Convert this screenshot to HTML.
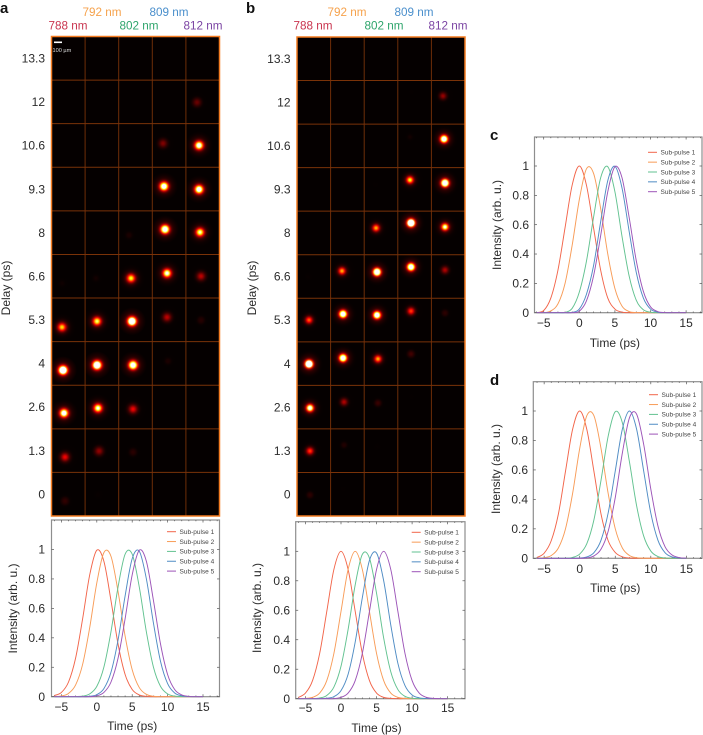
<!DOCTYPE html>
<html lang="en">
<head>
<meta charset="utf-8">
<title>Sub-pulse delay maps</title>
<style>
html,body{margin:0;padding:0;background:#fff;width:703px;height:735px;overflow:hidden}
svg{display:block;font-family:"Liberation Sans",sans-serif}
text{fill:#2b2b2b}
.wl{font-size:11.7px;text-anchor:middle}
.letter{font-size:15px;font-weight:bold;fill:#111}
.title{font-size:12px;text-anchor:middle}
</style>
</head>
<body>
<svg id="figure" xmlns="http://www.w3.org/2000/svg" width="703" height="735" viewBox="0 0 703 735">
<defs id="gradients"></defs>
<text class="letter" x="0" y="13">a</text>
<text class="letter" x="246" y="13">b</text>
<text class="letter" x="490" y="140">c</text>
<text class="letter" x="490" y="385">d</text>

<text class="wl" x="68" y="29.5" style="fill:#c9354f">788 nm</text>
<text class="wl" x="102" y="16" style="fill:#f6a24c">792 nm</text>
<text class="wl" x="139" y="29.5" style="fill:#2fa56c">802 nm</text>
<text class="wl" x="169" y="16" style="fill:#4a8fcc">809 nm</text>
<text class="wl" x="203" y="29.5" style="fill:#7b44a3">812 nm</text>
<text class="wl" x="313" y="29.5" style="fill:#c9354f">788 nm</text>
<text class="wl" x="347" y="16" style="fill:#f6a24c">792 nm</text>
<text class="wl" x="384" y="29.5" style="fill:#2fa56c">802 nm</text>
<text class="wl" x="414" y="16" style="fill:#4a8fcc">809 nm</text>
<text class="wl" x="448" y="29.5" style="fill:#7b44a3">812 nm</text>

<text class="title" transform="translate(10,288) rotate(-90)">Delay (ps)</text>
<text class="title" transform="translate(256,288) rotate(-90)">Delay (ps)</text>
</svg>
<script>
// ---- Chart data ----
const delayLabels = ["13.3","12","10.6","9.3","8","6.6","5.3","4","2.6","1.3","0"];
const columnCount = 5;
// Spots: row, column, peak intensity (saturating above 1), x and y drift from the cell centre in µm
const spotsA = [
 [1,4,.28,-71,6],
 [2,3,.32,-76,-26],[2,4,1.15,-46,-1],
 [3,3,1.3,-64,-34],[3,4,1.25,-46,4],
 [4,2,.1,-81,32],[4,3,1.4,-51,-42],[4,4,.95,-34,-5],
 [5,0,.07,-79,88],[5,1,.08,-74,25],[5,2,.85,-56,25],[5,3,1.05,-26,-38],[5,4,.42,-21,0],
 [6,0,.8,-79,92],[6,1,.9,-61,18],[6,2,1.6,-44,18],[6,3,.42,-26,-32],[6,4,.13,-21,5],
 [7,0,1.7,-66,84],[7,1,1.6,-61,21],[7,2,1.4,-31,21],[7,3,.1,-14,-29],
 [8,0,1.2,-54,76],[8,1,1,-49,14],[8,2,.5,-31,26],
 [9,0,.5,-41,81],[9,1,.35,-36,6],[9,2,.14,-31,19],
 [10,0,.16,-41,85],[10,1,.05,-49,10]
];
const spotsB = [
 [1,3,.03,-45,-129],[1,4,.36,-65,-79],
 [2,3,.08,-58,-111],[2,4,1.5,-52,-86],
 [3,2,.03,-75,-55],[3,3,.85,-58,-118],[3,4,1.8,-40,-80],
 [4,2,.75,-62,-62],[4,3,2,-45,-125],[4,4,1,-40,-75],
 [5,0,.05,-72,6],[5,1,.75,-68,-69],[5,2,1.8,-50,-56],[5,3,1.6,-45,-119],[5,4,.4,-40,-81],
 [6,0,.65,-60,0],[6,1,1.6,-55,-75],[6,2,1.5,-50,-62],[6,3,.6,-45,-112],[6,4,.15,-40,-88],
 [7,0,2,-60,5],[7,1,1.6,-55,-70],[7,2,.75,-38,-58],[7,3,.2,-45,-120],
 [8,0,1.2,-48,11],[8,1,.4,-42,-64],[8,2,.18,-38,-51],[8,3,.03,-45,-126],
 [9,0,.6,-48,4],[9,1,.12,-42,-71],[9,2,.04,-50,-46],
 [10,0,.15,-48,10],[10,1,.03,-55,-65]
];

const seriesNames = ["Sub-pulse 1","Sub-pulse 2","Sub-pulse 3","Sub-pulse 4","Sub-pulse 5"];
const timeTicks = [-5,0,5,10,15];
const timeTickLabels = ["\u22125","0","5","10","15"];
const intensityTicks = [0,0.2,0.4,0.6,0.8,1];
const intensityTickLabels = ["0","0.2","0.4","0.6","0.8","1"];
// Sample times (ps) shared by every curve
const times = [-6,-5,-4,-3,-2,-1,0,1,2,3,4,5,6,7,8,9,10,11,12,13,14,15];

const panelACurve1 = [.008,.029,.099,.261,.53,.828,.995,.92,.654,.358,.151,.049,.012,.002,0,0,0,0,0,0,0,0];
const panelACurve2 = [.001,.005,.022,.079,.22,.47,.773,.979,.954,.715,.412,.183,.062,.016,.003,0,0,0,0,0,0,0];
const panelACurve3 = [0,0,0,.001,.004,.019,.07,.201,.441,.745,.968,.968,.745,.441,.201,.07,.019,.004,.001,0,0,0];
const panelACurve4 = [0,0,0,0,0,.003,.014,.055,.166,.385,.685,.938,.988,.801,.5,.24,.089,.025,.006,.001,0,0];
const panelACurve5 = [0,0,0,0,0,0,.006,.029,.099,.261,.53,.828,.995,.92,.654,.358,.151,.049,.012,.002,0,0];

const panelBCurve1 = [.009,.038,.123,.307,.592,.877,1,.877,.592,.307,.123,.038,.009,.002,0,0,0,0,0,0,0,0];
const panelBCurve2 = [0,.002,.009,.038,.123,.307,.592,.877,1,.877,.592,.307,.123,.038,.009,.002,0,0,0,0,0,0];
const panelBCurve3 = [0,0,0,.005,.022,.079,.22,.47,.773,.979,.954,.715,.412,.183,.062,.016,.003,0,0,0,0,0];
const panelBCurve4 = [0,0,0,0,.003,.014,.055,.166,.385,.685,.938,.988,.801,.5,.24,.089,.025,.006,.001,0,0,0];
const panelBCurve5 = [0,0,0,0,0,0,.009,.038,.123,.307,.592,.877,1,.877,.592,.307,.123,.038,.009,.002,0,0];

const panelCCurve1 = [.001,.015,.1,.29,.58,.87,1,.87,.58,.29,.1,.025,.004,0,0,0,0,0,0,0,0,0];
const panelCCurve2 = [0,0,.012,.06,.2,.46,.77,.98,.95,.71,.4,.165,.045,.008,.001,0,0,0,0,0,0,0];
const panelCCurve3 = [0,0,0,0,.002,.03,.14,.35,.65,.92,.995,.825,.52,.25,.085,.02,.003,0,0,0,0,0];
const panelCCurve4 = [0,0,0,0,0,.002,.025,.125,.32,.62,.9,.998,.85,.555,.275,.1,.025,.004,0,0,0,0];
const panelCCurve5 = [0,0,0,0,0,0,.01,.08,.25,.525,.825,.995,.92,.65,.355,.145,.04,.008,.001,0,0,0];

const panelDCurve1 = [.006,.035,.12,.3,.59,.875,1,.875,.59,.3,.12,.04,.01,.002,0,0,0,0,0,0,0,0];
const panelDCurve2 = [0,.004,.019,.07,.2,.44,.745,.968,.968,.745,.441,.201,.07,.019,.004,.001,0,0,0,0,0,0];
const panelDCurve3 = [0,0,0,0,0,.006,.029,.099,.261,.53,.828,.995,.92,.654,.358,.151,.049,.012,.002,0,0,0];
const panelDCurve4 = [0,0,0,0,0,0,.002,.009,.038,.123,.307,.592,.877,1,.877,.592,.307,.123,.038,.009,.002,0];
const panelDCurve5 = [0,0,0,0,0,0,0,.003,.016,.062,.183,.412,.715,.954,.979,.773,.47,.22,.079,.022,.005,.001];

// ---- Rendering ----
const NS = "http://www.w3.org/2000/svg";
const svg = document.getElementById("figure");
const defs = document.getElementById("gradients");
const curveColors = ["#f2654a","#f89c58","#62c290","#4f8cc4","#9c54b8"];
const UM_TO_PX = 0.08;

function make(tag, attrs, parent) {
  const el = document.createElementNS(NS, tag);
  for (const k in attrs) el.setAttribute(k, attrs[k]);
  parent.appendChild(el);
  return el;
}
function hot(t) {
  const r = Math.min(1, 0.02 + t / 0.4);
  const g = Math.max(0, Math.min(1, (t - 0.4) / 0.4));
  const b = Math.max(0, Math.min(1, (t - 0.8) / 0.2));
  return "rgb(" + Math.round(r * 255) + "," + Math.round(g * 255) + "," + Math.round(b * 255) + ")";
}

function drawHeatmap(id, box, spots, sigma) {
  const g = make("g", {}, svg);
  
  
  const clip = make("clipPath", {id: id + "-grid-clip"}, defs);
  make("rect", {x: box.x, y: box.y, width: box.w, height: box.h}, clip);
  const bg = make("rect", {x: box.x, y: box.y, width: box.w, height: box.h, fill: "#050000"}, g);
  
  
  const marks = make("g", {"clip-path": "url(#" + id + "-grid-clip)"}, g);
  
  
  const cw = box.w / columnCount, ch = box.h / delayLabels.length;
  const colX = c => box.x + cw * (c + 0.5);
  const rowY = r => box.y + ch * (r + 0.5);
  spots.forEach((s, i) => {
    const [row, col, value, dxUm, dyUm] = s;
    const amp = value < 1 ? Math.pow(value, 1.5) : value;
    const gid = id + "-spot-" + i;
    const rad = 14;
    const grad = make("radialGradient", {id: gid}, defs);
    for (let k = 0; k <= rad; k++) {
      const v = amp * Math.exp(-k * k / (2 * sigma * sigma)) +
                0.07 * amp * Math.exp(-k * k / (2 * Math.pow(sigma * 2.4, 2)));
      make("stop", {offset: k / rad, "stop-color": hot(v), "stop-opacity": k === rad ? 0 : Math.min(1, v * 40)}, grad);
    }
    const spot = make("circle", {
      cx: colX(col) + dxUm * UM_TO_PX, cy: rowY(row) + dyUm * UM_TO_PX, r: rad, fill: "url(#" + gid + ")"
    }, marks);
    
    
  });
  for (let c = 1; c < columnCount; c++) {
    const l = make("line", {x1: box.x + cw * c, x2: box.x + cw * c, y1: box.y, y2: box.y + box.h, stroke: "#6e2d08", "stroke-width": 1}, g);
    
    
  }
  for (let r = 1; r < delayLabels.length; r++) {
    const l = make("line", {x1: box.x, x2: box.x + box.w, y1: box.y + ch * r, y2: box.y + ch * r, stroke: "#7a3208", "stroke-width": 1}, g);
    
    
  }
  const border = make("rect", {x: box.x, y: box.y, width: box.w, height: box.h, fill: "none", stroke: "#f47b20", "stroke-width": 1.5}, g);
  
  
  delayLabels.forEach((lab, r) => {
    const t = make("text", {x: box.x - 6.5, y: rowY(r) + 4.2, "text-anchor": "end", "font-size": 12}, g);
    t.textContent = lab;
    
    
  });
}

function curvePath(xs, ys) {
  let d = "M" + xs[0].toFixed(2) + "," + ys[0].toFixed(2);
  for (let i = 0; i < xs.length - 1; i++) {
    const i0 = Math.max(0, i - 1), i3 = Math.min(xs.length - 1, i + 2);
    const c1x = xs[i] + (xs[i + 1] - xs[i0]) / 6, c1y = ys[i] + (ys[i + 1] - ys[i0]) / 6;
    const c2x = xs[i + 1] - (xs[i3] - xs[i]) / 6, c2y = ys[i + 1] - (ys[i3] - ys[i]) / 6;
    d += "C" + c1x.toFixed(2) + "," + c1y.toFixed(2) + " " + c2x.toFixed(2) + "," + c2y.toFixed(2) + " " + xs[i + 1].toFixed(2) + "," + ys[i + 1].toFixed(2);
  }
  return d;
}

function drawPlot(p, curves) {
  const g = make("g", {}, svg);
  
  
  const xScale = t => p.x0 + t * p.xs;
  const yScale = v => p.y0 - v * (p.y0 - p.y1);
  const right = p.left + p.w;
  const frame = make("rect", {x: p.left, y: p.top, width: p.w, height: p.y0 - p.top, fill: "#fff", stroke: "#8e8e8e", "stroke-width": 1.2}, g);
  
  
  for (let t = -6; t <= 17; t++) {
    const major = timeTicks.indexOf(t) >= 0;
    const len = major ? 2.5 : 1.2;
    [[p.y0, p.y0 - len], [p.top, p.top + len]].forEach(e => {
      const tk = make("line", {x1: xScale(t), x2: xScale(t), y1: e[0], y2: e[1], stroke: "#555", "stroke-width": 0.7}, g);
      
      
    });
  }
  timeTicks.forEach((t, i) => {
    const lab = make("text", {x: xScale(t), y: p.xLabelY, "text-anchor": "middle", "font-size": 12}, g);
    lab.textContent = timeTickLabels[i];
    
    
  });
  intensityTicks.forEach((v, i) => {
    [[p.left, p.left + 2.5], [right, right - 2.5]].forEach(e => {
      const tk = make("line", {x1: e[0], x2: e[1], y1: yScale(v), y2: yScale(v), stroke: "#555", "stroke-width": 0.7}, g);
      
      
    });
    const lab = make("text", {x: p.yLabelX, y: yScale(v) + 4.2, "text-anchor": "end", "font-size": 12}, g);
    lab.textContent = intensityTickLabels[i];
    
    
  });
  curves.forEach((vals, i) => {
    const path = make("path", {
      d: curvePath(times.map(xScale), vals.map(yScale)), fill: "none", stroke: curveColors[i], "stroke-width": 0.95
    }, g);
    
    
    const ly = p.legendY + i * 9.85;
    const key = make("line", {x1: p.legendX, x2: p.legendX + 9, y1: ly, y2: ly, stroke: curveColors[i], "stroke-width": 1}, g);
    
    
    const txt = make("text", {x: p.legendX + 12.5, y: ly + 2.3, "font-size": 6.5, style: "fill:#444"}, g);
    txt.textContent = seriesNames[i];
    
    
  });
  const xt = make("text", {class: "title", x: xScale(5) + p.xTitleShift, y: p.xTitleY}, g);
  xt.textContent = "Time (ps)";
  
  
  const yt = make("text", {class: "title", transform: "translate(" + p.yTitleX + "," + p.yTitleY + ") rotate(-90)"}, g);
  yt.textContent = "Intensity (arb. u.)";
  
  
}

drawHeatmap("a", {x: 51.5, y: 36.5, w: 168, h: 479.5}, spotsA, 2.7);
drawHeatmap("b", {x: 297, y: 37, w: 168, h: 479}, spotsB, 2.3);

// Scale bar
const scaleBar = make("rect", {x: 54, y: 41.5, width: 8, height: 1.6, fill: "#fff"}, svg);


const scaleLabel = make("text", {x: 52.5, y: 52, "font-size": 5.6, style: "fill:#ddd"}, svg);
scaleLabel.textContent = "100 \u00b5m";



drawPlot({id: "a", left: 51.5, w: 168, top: 520, y0: 696.7, y1: 549.5, x0: 96.8, xs: 7.08,
  xLabelY: 711, xTitleY: 730, xTitleShift: 0, yLabelX: 45, yTitleX: 17, yTitleY: 608.5, legendX: 167, legendY: 531.7},
  [panelACurve1, panelACurve2, panelACurve3, panelACurve4, panelACurve5]);
drawPlot({id: "b", left: 295.7, w: 169.3, top: 521.7, y0: 698.7, y1: 551.3, x0: 341, xs: 7.11,
  xLabelY: 712, xTitleY: 732, xTitleShift: 0, yLabelX: 290, yTitleX: 261, yTitleY: 608, legendX: 411.7, legendY: 532.3},
  [panelBCurve1, panelBCurve2, panelBCurve3, panelBCurve4, panelBCurve5]);
drawPlot({id: "c", left: 534.5, w: 167.5, top: 137, y0: 312.7, y1: 166, x0: 579.3, xs: 7.12,
  xLabelY: 327, xTitleY: 347, xTitleShift: 0, yLabelX: 529, yTitleX: 501, yTitleY: 225, legendX: 648, legendY: 152.3},
  [panelCCurve1, panelCCurve2, panelCCurve3, panelCCurve4, panelCCurve5]);
drawPlot({id: "d", left: 533.3, w: 168.7, top: 381.7, y0: 558.3, y1: 411, x0: 579.7, xs: 7.11,
  xLabelY: 573, xTitleY: 592, xTitleShift: 0, yLabelX: 528, yTitleX: 500, yTitleY: 469, legendX: 649, legendY: 394.7},
  [panelDCurve1, panelDCurve2, panelDCurve3, panelDCurve4, panelDCurve5]);
</script>
</body>
</html>
